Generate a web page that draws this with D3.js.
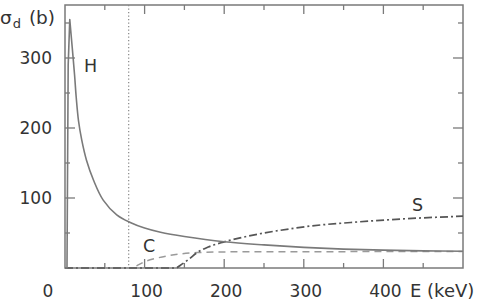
<!DOCTYPE html>
<html><head><meta charset="utf-8">
<script src="https://cdn.jsdelivr.net/npm/d3@7"></script>
<style>body{margin:0;background:#fff}svg{display:block}text{font-family:"DejaVu Sans",Verdana,sans-serif;fill:#333}</style>
</head><body><svg id="c" width="477" height="300"></svg>
<script>
const xTicksMajor = [0,100,200,300,400];
const yTicksMajor = [100,200,300];
const hRise = [[0,0],[2.5,0],[4,290],[6,355]];
const hFall = [[6,355],[9,316],[12,276],[14,245],[17,210],[21,183],[27,154],[36,125],[48,97],[65,76],[82,65],[100,57],[120,51],[150,45],[200,37.5],[250,33],[300,29.5],[350,27],[400,25.5],[450,24.5],[500,24]];
const cData = [[0,0],[85,0],[90,3],[100,9],[115,14],[132,18],[166,22],[200,23],[300,23.3],[500,23.5]];
const sData = [[0,0],[139,0],[145,4],[155,12],[166,22],[180,30],[199,37],[220,43],[250,50],[283,56],[309,60],[359,65],[422,70],[500,74]];
const markerE = 80;
const labels = [{t:"H",e:24,v:280},{t:"C",e:98,v:23},{t:"S",e:436,v:81}];

const svg = d3.select("#c");
const x = d3.scaleLinear().domain([0,500]).range([65,463]);
const y = d3.scaleLinear().domain([0,375.7]).range([268,5]);
const gray = "#7a7a7a";

svg.append("rect").attr("x",x(0)).attr("y",y(375.7)).attr("width",x(500)-x(0)).attr("height",y(0)-y(375.7))
  .attr("fill","none").attr("stroke",gray).attr("stroke-width",1.5);

const xt = d3.range(0,501,50), yt = d3.range(0,376,50);
xt.forEach(v=>{ if(v===0||v===500) return; const L = v%100===0?9:5;
  svg.append("line").attr("x1",x(v)).attr("x2",x(v)).attr("y1",y(0)).attr("y2",y(0)-L).attr("stroke",gray).attr("stroke-width",1.3);
  svg.append("line").attr("x1",x(v)).attr("x2",x(v)).attr("y1",y(375.7)).attr("y2",y(375.7)+L).attr("stroke",gray).attr("stroke-width",1.3);
});
yt.forEach(v=>{ if(v===0) return; const L = v%100===0?10:5;
  svg.append("line").attr("x1",x(0)).attr("x2",x(0)+L).attr("y1",y(v)).attr("y2",y(v)).attr("stroke",gray).attr("stroke-width",1.3);
  svg.append("line").attr("x1",x(500)).attr("x2",x(500)-L).attr("y1",y(v)).attr("y2",y(v)).attr("stroke",gray).attr("stroke-width",1.3);
});

xTicksMajor.forEach(v=>{
  svg.append("text").attr("x", v===0 ? x(0)-17 : x(v)+2).attr("y",297).attr("text-anchor","middle").attr("font-size",17).text(v);
});
svg.append("text").attr("x",410).attr("y",297).attr("font-size",18).text("E (keV)");
yTicksMajor.forEach(v=>{
  svg.append("text").attr("x",52).attr("y",y(v)+6).attr("text-anchor","end").attr("font-size",17).text(v);
});
const yl = svg.append("text").attr("x",0).attr("y",24).attr("font-size",18.5);
yl.append("tspan").text("σ");
yl.append("tspan").attr("font-size",13).attr("dy",4).attr("dx",1).text("d");
yl.append("tspan").attr("dy",-4).attr("dx",2).text(" (b)");

svg.append("line").attr("x1",x(markerE)).attr("x2",x(markerE)).attr("y1",y(375.7)).attr("y2",y(0))
  .attr("stroke","#888").attr("stroke-width",1.2).attr("stroke-dasharray","1.2,2.3");

const lin = d3.line().x(d=>x(d[0])).y(d=>y(d[1]));
const smooth = d3.line().x(d=>x(d[0])).y(d=>y(d[1])).curve(d3.curveMonotoneX);
const cat = d3.line().x(d=>x(d[0])).y(d=>y(d[1])).curve(d3.curveCatmullRom.alpha(0.5));
svg.append("path").attr("d",smooth(cData)).attr("fill","none").attr("stroke","#9a9a9a").attr("stroke-width",1.5).attr("stroke-dasharray","7,5");
svg.append("path").attr("d",smooth(sData)).attr("fill","none").attr("stroke","#555").attr("stroke-width",1.7).attr("stroke-dasharray","8,3,2,3");
svg.append("path").attr("d",lin(hRise)+cat(hFall).replace(/^M/,"L")).attr("fill","none").attr("stroke",gray).attr("stroke-width",1.6).attr("stroke-linejoin","round");

labels.forEach(l=>{
  svg.append("text").attr("x",x(l.e)).attr("y",y(l.v)).attr("font-size",17.5).text(l.t);
});
</script></body></html>
